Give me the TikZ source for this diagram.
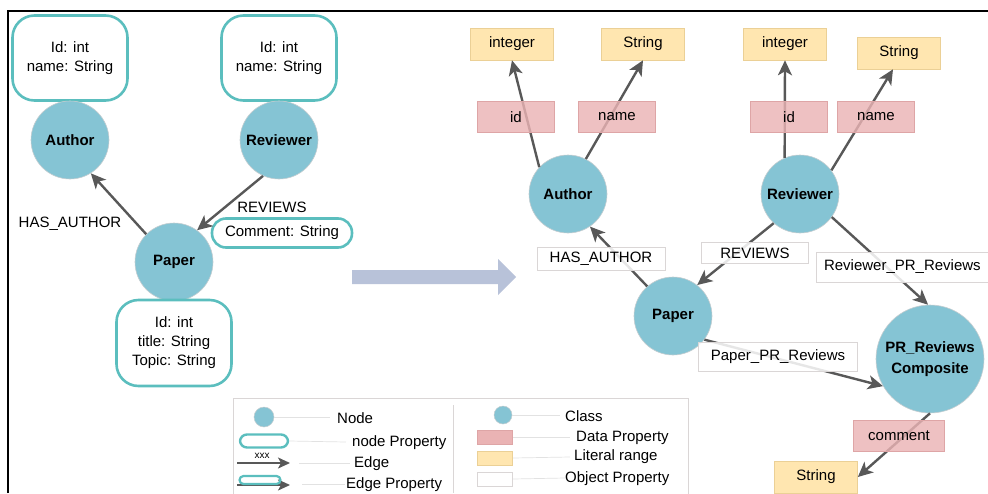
\documentclass[tikz,border=0pt]{standalone}
\usepackage{fontspec}
\setmainfont{Liberation Sans}
\usetikzlibrary{arrows.meta}

\definecolor{classblue}{RGB}{133,196,212}
\definecolor{classrim}{RGB}{196,205,208}
\definecolor{propteal}{RGB}{91,190,190}
\definecolor{dpink}{RGB}{234,179,180}
\definecolor{dpinkrim}{RGB}{222,165,166}
\definecolor{lityellow}{RGB}{255,230,176}
\definecolor{lityellowrim}{RGB}{235,208,150}
\definecolor{orim}{RGB}{218,214,214}
\definecolor{arrowgray}{RGB}{88,88,88}
\definecolor{bigarrow}{RGB}{184,194,217}
\definecolor{legline}{RGB}{226,226,226}

\tikzset{
  cls/.style={circle, fill=classblue, draw=classrim, line width=0.6pt,
    minimum size=78pt, inner sep=0pt, font=\fontsize{15}{19}\selectfont\bfseries},
  propbox/.style={draw=propteal, line width=2.6pt, rounded corners=22pt,
    fill=white, align=center, inner sep=0pt},
  lit/.style={fill=lityellow, draw=lityellowrim, line width=0.6pt,
    minimum width=83pt, minimum height=32pt, inner sep=0pt},
  dprop/.style={fill=dpink, fill opacity=0.82, text opacity=1, draw=dpinkrim,
    line width=0.6pt, minimum width=77pt, minimum height=31pt, inner sep=0pt},
  oprop/.style={fill=white, fill opacity=0.85, text opacity=1, draw=orim,
    line width=0.6pt, inner sep=0pt},
  conn/.style={draw=arrowgray, line width=2.4pt,
    -{Stealth[length=15pt,width=14pt,inset=4pt]}},
  legline/.style={draw=legline, line width=0.7pt},
}

\begin{document}
\begin{tikzpicture}[x=1pt, y=-1pt, font=\fontsize{15}{19}\selectfont]
\useasboundingbox (0,0) rectangle (988,493);

% frame
\draw[black, line width=1.6pt] (8,493) -- (8,11) -- (988,11);

% ---------------- property graph ----------------
\node[propbox, minimum width=115pt, minimum height=85pt] (authProps) at (70,58) {Id: int\\name: String};
\node[propbox, minimum width=115pt, minimum height=85pt] (revProps) at (279,58) {Id: int\\name: String};
\node[cls] (authorL) at (70,140) {Author};
\node[cls] (reviewerL) at (279,140) {Reviewer};
\node[cls] (paperL) at (174,262) {Paper};
\node[propbox, minimum width=115pt, minimum height=86pt] (paperProps) at (174,343) {Id: int\\title: String\\Topic: String};
\node[propbox, rounded corners=14pt, minimum width=140pt, minimum height=29pt] (commentProp) at (282,233) {Comment: String};

\draw[conn] (paperL.135) -- (authorL.-58);
\draw[conn] (reviewerL.-114) -- (paperL.54);
\node (hasAuthL) at (70,224) {HAS\_AUTHOR};
\node (reviewsL) at (272,207) {REVIEWS};

% transformation arrow
\fill[bigarrow] (352,270) -- (498,270) -- (498,259) -- (516,277) -- (498,295) -- (498,284) -- (352,284) -- cycle;

% ---------------- ontology ----------------
\node[lit] (int1) at (512,44) {integer};
\node[lit] (str1) at (643,44) {String};
\node[lit] (int2) at (785,44) {integer};
\node[lit] (str2) at (899,53) {String};
\node[cls] (authorR) at (568,194) {Author};
\node[cls] (reviewerR) at (800,194) {Reviewer};
\node[cls] (paperR) at (673,316) {Paper};
\node[cls, minimum size=108pt, align=center, font=\fontsize{15}{21}\selectfont\bfseries] (composite) at (930,359) {PR\_Reviews\\Composite};
\node[lit] (str3) at (816,477) {String};

\draw[conn] (authorR.137) -- (int1.south);
\draw[conn] (authorR.63) -- (str1.south);
\draw[conn] (reviewerR.113) -- (int2.south);
\draw[conn] (reviewerR.37) -- ([xshift=-6pt]str2.south);
\draw[conn] (paperR.131) -- (authorR.-56);
\draw[conn] (reviewerR.-132) -- (paperR.52);
\draw[conn] (reviewerR.-36) -- (composite.92);
\draw[conn] (paperR.-37) -- (composite.210);
\draw[conn] (composite.-90) -- (str3.east);

\node[dprop] (id1) at (516,117) {id};
\node[dprop] (name1) at (617,117) {name};
\node[dprop] (id2) at (789,117) {id};
\node[dprop] (name2) at (876,117) {name};
\node[dprop, minimum width=91pt] (commentR) at (899,436) {comment};

\node[oprop, minimum width=128pt, minimum height=23pt] (hasAuthR) at (601,259) {HAS\_AUTHOR};
\node[oprop, minimum width=107pt, minimum height=21pt] (reviewsR) at (755,253) {REVIEWS};
\node[oprop, minimum width=172pt, minimum height=30pt, text width=164pt, align=left] (revPR) at (902,267) {\hspace*{4pt}Reviewer\_PR\_Reviews};
\node[oprop, minimum width=159pt, minimum height=29pt] (paperPR) at (778,357) {Paper\_PR\_Reviews};

% ---------------- legend ----------------
\draw[draw=orim, line width=0.7pt] (233,500) -- (233,398) -- (688,398) -- (688,500);
\draw[draw=orim, line width=0.7pt] (453,405) -- (453,493);

% left column
\node[circle, fill=classblue, draw=classrim, line width=0.5pt, minimum size=20pt, inner sep=0pt] (lgNode) at (264,417) {};
\coordinate (lgNodeEnd) at (330,417);
\draw[legline] (lgNode) -- (lgNodeEnd);
\node[anchor=west, inner sep=0pt] (lgNodeT) at (337,418) {Node};

\node[draw=propteal, line width=2.4pt, rounded corners=7pt, minimum width=48pt, minimum height=13pt, inner sep=0pt] (lgProp) at (264,441) {};
\coordinate (lgPropEnd) at (346,442);
\draw[legline] (lgProp.east) -- (lgPropEnd);
\node[anchor=west, inner sep=0pt] (lgPropT) at (352,443) {node Property};

\coordinate (lgEdgeA) at (237,463);
\coordinate (lgEdgeB) at (290,463);
\draw[draw=arrowgray, line width=1.6pt, -{Stealth[length=12pt,width=11pt,inset=3pt]}] (lgEdgeA) -- (lgEdgeB);
\node[font=\fontsize{10}{12}\selectfont, inner sep=0pt] (lgXXX) at (262,456) {xxx};
\coordinate (lgEdgeC) at (299,463);
\coordinate (lgEdgeD) at (350,463);
\draw[legline] (lgEdgeC) -- (lgEdgeD);
\node[anchor=west, inner sep=0pt] (lgEdgeT) at (354,464) {Edge};

\coordinate (lgEpA) at (237,485);
\coordinate (lgEpB) at (290,485);
\draw[draw=arrowgray, line width=1.6pt, -{Stealth[length=12pt,width=11pt,inset=3pt]}] (lgEpA) -- (lgEpB);
\node[draw=propteal, line width=2.2pt, rounded corners=4pt, minimum width=41pt, minimum height=8pt, inner sep=0pt] (lgEpBox) at (260,480) {};
\coordinate (lgEpC) at (302,484);
\coordinate (lgEpD) at (345,484);
\draw[legline] (lgEpC) -- (lgEpD);
\node[anchor=west, inner sep=0pt] (lgEpT) at (346,485) {Edge Property};

% right column
\node[circle, fill=classblue, draw=classrim, line width=0.5pt, minimum size=18pt, inner sep=0pt] (lgClass) at (503,415) {};
\coordinate (lgClassEnd) at (560,415);
\draw[legline] (lgClass) -- (lgClassEnd);
\node[anchor=west, inner sep=0pt] (lgClassT) at (565,416) {Class};

\node[fill=dpink, draw=dpinkrim, line width=0.6pt, minimum width=35pt, minimum height=14pt, inner sep=0pt] (lgData) at (495,437) {};
\coordinate (lgDataEnd) at (570,437);
\draw[legline] (lgData.east) -- (lgDataEnd);
\node[anchor=west, inner sep=0pt] (lgDataT) at (576,438) {Data Property};

\node[fill=lityellow, draw=lityellowrim, line width=0.6pt, minimum width=35pt, minimum height=14pt, inner sep=0pt] (lgLit) at (495,458) {};
\coordinate (lgLitEnd) at (570,457);
\draw[legline] (lgLit.east) -- (lgLitEnd);
\node[anchor=west, inner sep=0pt] (lgLitT) at (574,457) {Literal range};

\node[fill=white, draw=orim, line width=0.6pt, minimum width=35pt, minimum height=14pt, inner sep=0pt] (lgObj) at (495,479) {};
\coordinate (lgObjEnd) at (565,478);
\draw[legline] (lgObj.east) -- (lgObjEnd);
\node[anchor=west, inner sep=0pt] (lgObjT) at (565,479) {Object Property};
\end{tikzpicture}
\end{document}
